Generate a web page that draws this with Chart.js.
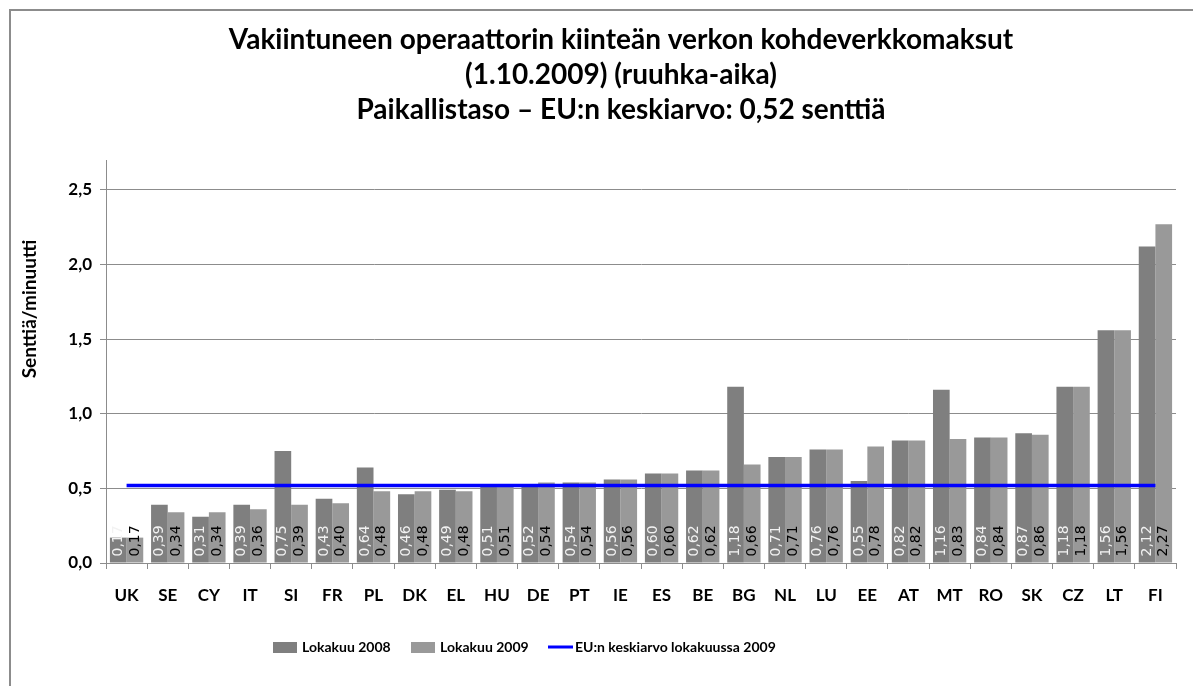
<!DOCTYPE html>
<html>
<head>
<meta charset="utf-8">
<script src="https://cdn.jsdelivr.net/npm/chart.js@4.4.1/dist/chart.umd.min.js"></script>
<style>
  html, body { margin: 0; padding: 0; background: #fff; overflow: hidden; }
  #wrap { position: relative; width: 1193px; height: 686px; }
  #frame { position: absolute; left: 9px; top: 9px; width: 1300px; height: 800px; border: 2px solid #8c8c8c; box-sizing: border-box; }
  canvas { position: absolute; left: 0; top: 0; }
</style>
</head>
<body>
<div id="wrap">
  <div id="frame"></div>
  <canvas id="chart" width="1193" height="686"></canvas>
</div>
<script>
// Chart data
const categories = ['UK', 'SE', 'CY', 'IT', 'SI', 'FR', 'PL', 'DK', 'EL', 'HU', 'DE', 'PT', 'IE',
                    'ES', 'BE', 'BG', 'NL', 'LU', 'EE', 'AT', 'MT', 'RO', 'SK', 'CZ', 'LT', 'FI'];
const values2008 = [0.17, 0.39, 0.31, 0.39, 0.75, 0.43, 0.64, 0.46, 0.49, 0.51, 0.52, 0.54, 0.56,
                    0.60, 0.62, 1.18, 0.71, 0.76, 0.55, 0.82, 1.16, 0.84, 0.87, 1.18, 1.56, 2.12];
const values2009 = [0.17, 0.34, 0.34, 0.36, 0.39, 0.40, 0.48, 0.48, 0.48, 0.51, 0.54, 0.54, 0.56,
                    0.60, 0.62, 0.66, 0.71, 0.76, 0.78, 0.82, 0.83, 0.84, 0.86, 1.18, 1.56, 2.27];
const euAverage  = [0.52, 0.52, 0.52, 0.52, 0.52, 0.52, 0.52, 0.52, 0.52, 0.52, 0.52, 0.52, 0.52,
                    0.52, 0.52, 0.52, 0.52, 0.52, 0.52, 0.52, 0.52, 0.52, 0.52, 0.52, 0.52, 0.52];
const yTicks = [0, 0.5, 1.0, 1.5, 2.0, 2.5];

const titleLines = [
    'Vakiintuneen operaattorin kiinteän verkon kohdeverkkomaksut',
    '(1.10.2009) (ruuhka-aika)',
    'Paikallistaso \u2013 EU:n keskiarvo: 0,52 senttiä'
];
const yTitle = 'Senttiä/minuutti';
const seriesNames = ['Lokakuu 2008', 'Lokakuu 2009', 'EU:n keskiarvo lokakuussa 2009'];

const FONT = 'Lato, "Open Sans", sans-serif';
const DARK = '#7f7f7f';
const LIGHT = '#999999';
const BLUE = '#0000ff';

function fmt(v) {
    return v.toFixed(2).replace('.', ',');
}

// Title, y-axis title and legend
const decorPlugin = {
    id: 'decor',
    afterDraw(chart) {
        const ctx = chart.ctx;
        ctx.save();
        ctx.fillStyle = '#000';
        ctx.textAlign = 'center';
        ctx.textBaseline = 'middle';
        ctx.font = 'bold 28px ' + FONT;
        titleLines.forEach((t, i) => ctx.fillText(t, 621, 40 + i * 35));

        ctx.save();
        ctx.translate(30, 309);
        ctx.rotate(-Math.PI / 2);
        ctx.font = 'bold 19px ' + FONT;
        ctx.fillText(yTitle, 0, 0);
        ctx.restore();

        // legend
        ctx.font = 'bold 14px ' + FONT;
        ctx.textAlign = 'left';
        const y = 647;
        const itemX = [273, 411, 548];
        seriesNames.forEach((name, i) => {
            const x = itemX[i];
            if (i < 2) {
                ctx.fillStyle = i === 0 ? DARK : LIGHT;
                ctx.fillRect(x, y - 5, 24, 11);
            } else {
                ctx.strokeStyle = BLUE;
                ctx.lineWidth = 3;
                ctx.beginPath();
                ctx.moveTo(x, y);
                ctx.lineTo(x + 25, y);
                ctx.stroke();
            }
            ctx.fillStyle = '#000';
            ctx.fillText(name, x + (i < 2 ? 29 : 27), y);
        });
        ctx.restore();
    }
};

// Rotated value labels at the foot of each bar
const barLabelPlugin = {
    id: 'barLabels',
    afterDatasetsDraw(chart) {
        const ctx = chart.ctx;
        ctx.save();
        ctx.font = '14px "DejaVu Sans", sans-serif';
        ctx.textAlign = 'left';
        ctx.textBaseline = 'middle';
        [0, 1].forEach(di => {
            const meta = chart.getDatasetMeta(di);
            const data = chart.data.datasets[di].data;
            ctx.fillStyle = di === 0 ? '#f2f2f2' : '#000';
            meta.data.forEach((bar, i) => {
                ctx.save();
                ctx.translate(bar.x, bar.base - 6);
                ctx.rotate(-Math.PI / 2);
                ctx.fillText(fmt(data[i]), 0, 0);
                ctx.restore();
            });
        });
        ctx.restore();
    }
};

new Chart(document.getElementById('chart'), {
    type: 'bar',
    data: {
        labels: categories,
        datasets: [
            {
                label: seriesNames[0],
                data: values2008,
                backgroundColor: DARK,
                borderWidth: 0,
                categoryPercentage: 0.81,
                barPercentage: 1.0,
                order: 1
            },
            {
                label: seriesNames[1],
                data: values2009,
                backgroundColor: LIGHT,
                borderWidth: 0,
                categoryPercentage: 0.81,
                barPercentage: 1.0,
                order: 1
            },
            {
                type: 'line',
                label: seriesNames[2],
                data: euAverage,
                borderColor: BLUE,
                backgroundColor: BLUE,
                borderWidth: 3.5,
                pointRadius: 0,
                fill: false,
                order: 0
            }
        ]
    },
    options: {
        responsive: false,
        animation: false,
        layout: {
            padding: { top: 160, left: 12, right: 17, bottom: 76 }
        },
        plugins: {
            legend: { display: false },
            title: { display: false },
            tooltip: { enabled: false }
        },
        scales: {
            x: {
                grid: {
                    offset: true,
                    drawOnChartArea: false,
                    drawTicks: true,
                    tickLength: 6,
                    color: '#8c8c8c'
                },
                border: { color: '#8c8c8c' },
                ticks: {
                    color: '#000',
                    padding: 16,
                    maxRotation: 0,
                    autoSkip: false,
                    font: { family: FONT, size: 17, weight: 'bold' }
                },
                afterFit(scale) { scale.height = 47; }
            },
            y: {
                min: 0,
                max: 2.7,
                afterBuildTicks(scale) {
                    scale.ticks = yTicks.map(v => ({ value: v }));
                },
                grid: {
                    color: '#8c8c8c',
                    drawTicks: true,
                    tickLength: 6
                },
                border: { color: '#8c8c8c' },
                ticks: {
                    color: '#000',
                    padding: 8,
                    font: { family: FONT, size: 17, weight: 'bold' },
                    callback: v => v.toFixed(1).replace('.', ',')
                },
                afterFit(scale) { scale.width = 94; }
            }
        }
    },
    plugins: [barLabelPlugin, decorPlugin]
});
</script>
</body>
</html>
